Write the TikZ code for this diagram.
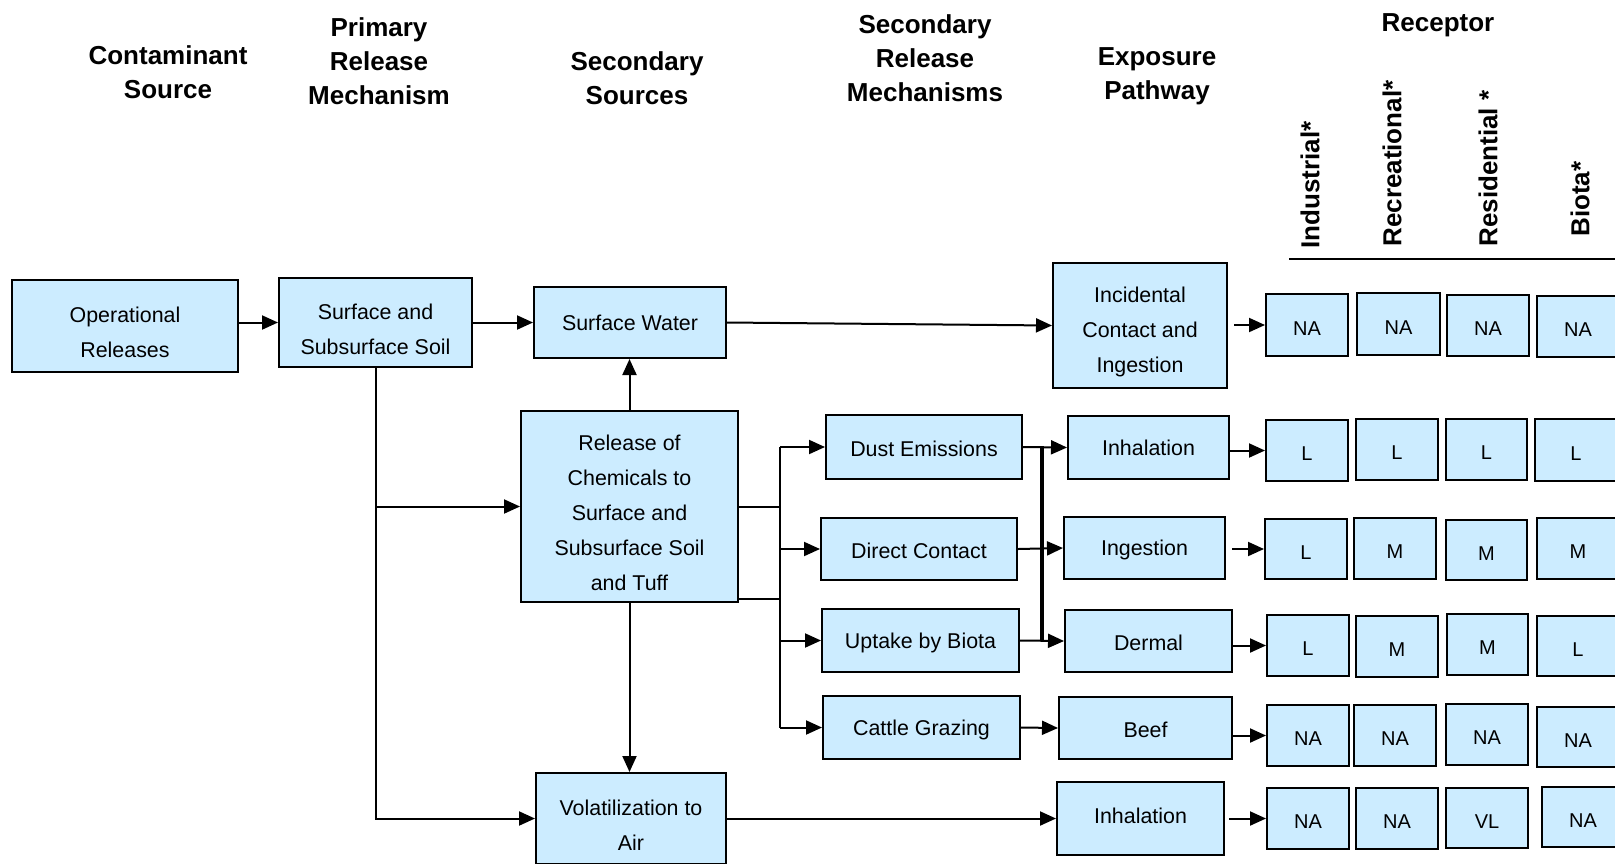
\documentclass[tikz,border=0pt]{standalone}
\usepackage{fontspec}
\setmainfont{Liberation Sans}
\usetikzlibrary{arrows.meta,calc}
\definecolor{boxblue}{RGB}{204,236,255}
\tikzset{
 box/.style={draw=black, fill=boxblue, line width=1pt, align=center, inner sep=0pt, font=\fontsize{10.7}{17.5}\selectfont},
 rbox/.style={box, font=\fontsize{10}{12}\selectfont},
 hdr/.style={align=center, inner sep=0pt, font=\bfseries\fontsize{13}{17}\selectfont},
 vhdr/.style={hdr, rotate=90, anchor=west},
 conn/.style={line width=1pt},
 arr/.style={conn, -{Triangle[length=8pt,width=7pt]}},
}
\newcommand\tstr{\rule{0pt}{14.5pt}}
\newcommand\sstr{\rule{0pt}{10pt}}
\newcommand\rstr{\rule{0pt}{10.2pt}}
\newcommand\mybox[7]{\node[#1, minimum width={(#4-#2)*0.5pt}, minimum height={(#5-#3)*0.5pt}] (#6) at ({(#2+#4)/2},{(#3+#5)/2}) {#7};}
\begin{document}
\begin{tikzpicture}[x=0.5pt,y=-0.5pt]
\useasboundingbox (0,0) rectangle (1615,863);
% headers
\node[hdr] (h1) at (168,72) {Contaminant\\Source};
\node[hdr] (h2) at (379,61) {Primary\\Release\\Mechanism};
\node[hdr] (h3) at (637,78) {Secondary\\Sources};
\node[hdr] (h4) at (925,58) {Secondary\\Release\\Mechanisms};
\node[hdr] (h5) at (1157,76) {Exposure\\Pathway};
\node[hdr] (h6) at (1438,25) {Receptor};
\node[vhdr] (v1) at (1310,249) {Industrial*};
\node[vhdr] (v2) at (1392,247) {Recreational*};
\node[vhdr] (v3) at (1488,247) {Residential *};
\node[vhdr] (v4) at (1580,237) {Biota*};
\coordinate (lineL) at (1289,259);
\coordinate (lineR) at (1620,259);
\draw[line width=1.3pt] (lineL) -- (lineR);
% main boxes
\mybox{box}{12}{280}{238}{372}{op}{\tstr Operational\\Releases}
\mybox{box}{279}{278}{472}{367}{soil}{\tstr Surface and\\Subsurface Soil}
\mybox{box}{534}{287}{726}{358}{sw}{Surface Water}
\mybox{box}{521}{411}{738}{602}{rel}{\tstr Release of\\Chemicals to\\Surface and\\Subsurface Soil\\and Tuff}
\mybox{box}{536}{773}{726}{864}{vol}{\tstr Volatilization to\\Air}
\mybox{box}{826}{415}{1022}{479}{dust}{\sstr Dust Emissions}
\mybox{box}{821}{518}{1017}{580}{direct}{\sstr Direct Contact}
\mybox{box}{822}{609}{1019}{672}{uptake}{\sstr Uptake by Biota}
\mybox{box}{823}{696}{1020}{759}{cattle}{\sstr Cattle Grazing}
\mybox{box}{1053}{263}{1227}{388}{inc}{\tstr Incidental\\Contact and\\Ingestion}
\mybox{box}{1068}{416}{1229}{479}{inh}{Inhalation}
\mybox{box}{1064}{517}{1225}{579}{ing}{\sstr Ingestion}
\mybox{box}{1065}{610}{1232}{672}{derm}{\sstr Dermal}
\mybox{box}{1059}{697}{1232}{759}{beef}{\sstr Beef}
\mybox{box}{1057}{782}{1224}{855}{inhb}{Inhalation\rule[-3pt]{0pt}{3pt}}
% receptor boxes
\mybox{rbox}{1266}{294}{1348}{356}{r1a}{\rstr NA}
\mybox{rbox}{1357}{293}{1440}{355}{r1b}{\rstr NA}
\mybox{rbox}{1447}{295}{1529}{356}{r1c}{\rstr NA}
\mybox{rbox}{1537}{296}{1619}{357}{r1d}{\rstr NA}
\mybox{rbox}{1266}{420}{1348}{481}{r2a}{\rstr L}
\mybox{rbox}{1356}{419}{1438}{480}{r2b}{\rstr L}
\mybox{rbox}{1446}{419}{1527}{480}{r2c}{\rstr L}
\mybox{rbox}{1535}{419}{1617}{481}{r2d}{\rstr L}
\mybox{rbox}{1265}{519}{1347}{579}{r3a}{\rstr L}
\mybox{rbox}{1354}{518}{1436}{579}{r3b}{\rstr M}
\mybox{rbox}{1446}{520}{1527}{580}{r3c}{\rstr M}
\mybox{rbox}{1537}{518}{1619}{579}{r3d}{\rstr M}
\mybox{rbox}{1267}{615}{1349}{676}{r4a}{\rstr L}
\mybox{rbox}{1356}{616}{1438}{677}{r4b}{\rstr M}
\mybox{rbox}{1447}{614}{1528}{675}{r4c}{\rstr M}
\mybox{rbox}{1537}{616}{1619}{676}{r4d}{\rstr L}
\mybox{rbox}{1267}{705}{1349}{766}{r5a}{\rstr NA}
\mybox{rbox}{1354}{705}{1436}{766}{r5b}{\rstr NA}
\mybox{rbox}{1446}{704}{1528}{765}{r5c}{\rstr NA}
\mybox{rbox}{1537}{707}{1619}{767}{r5d}{\rstr NA}
\mybox{rbox}{1267}{788}{1349}{849}{r6a}{\rstr NA}
\mybox{rbox}{1356}{788}{1438}{849}{r6b}{\rstr NA}
\mybox{rbox}{1446}{788}{1528}{848}{r6c}{\rstr VL}
\mybox{rbox}{1542}{787}{1624}{847}{r6d}{\rstr NA}
% connectors
\draw[arr] (op.east |- soil.west) -- (soil.west);
\draw[arr] (soil.east |- sw.west) -- (sw.west);
\draw[arr] (sw.east) -- (inc.west);
\draw[arr] (soil.south) |- (vol.west);
\draw[arr] (soil.south |- rel.west) -- (rel.west);
\draw[arr] (rel.north) -- (rel.north |- sw.south);
\draw[arr] (rel.south) -- (rel.south |- vol.north);
\coordinate (busa) at (780,0);
\coordinate (ylow) at (0,599);
\draw[conn] (rel.east) -- (busa |- rel.east);
\draw[conn] (rel.east |- ylow) -- (busa |- ylow);
\draw[conn] (busa |- dust.west) -- (busa |- cattle.west);
\foreach \n in {dust,direct,uptake,cattle} \draw[arr] (busa |- \n.west) -- (\n.west);
\coordinate (busb) at (1042,0);
\draw[arr] (dust.east) -- (inh.west);
\draw[arr] (direct.east) -- (ing.west);
\draw[arr] (uptake.east) -- (derm.west);
\draw[conn, line width=1.6pt] (busb |- inh.west) -- (busb |- derm.west);
\draw[arr] (cattle.east) -- (beef.west);
\draw[arr] (vol.east) -- (inhb.west);
\draw[arr, shorten <=3pt] (r1a.west -| inc.east) -- (r1a.west);
\draw[arr] (r2a.west -| inh.east) -- (r2a.west);
\draw[arr, shorten <=3pt] (r3a.west -| ing.east) -- (r3a.west);
\draw[arr] (r4a.west -| derm.east) -- (r4a.west);
\draw[arr] (r5a.west -| beef.east) -- (r5a.west);
\draw[arr, shorten <=2pt] (r6a.west -| inhb.east) -- (r6a.west);
\end{tikzpicture}
\end{document}
